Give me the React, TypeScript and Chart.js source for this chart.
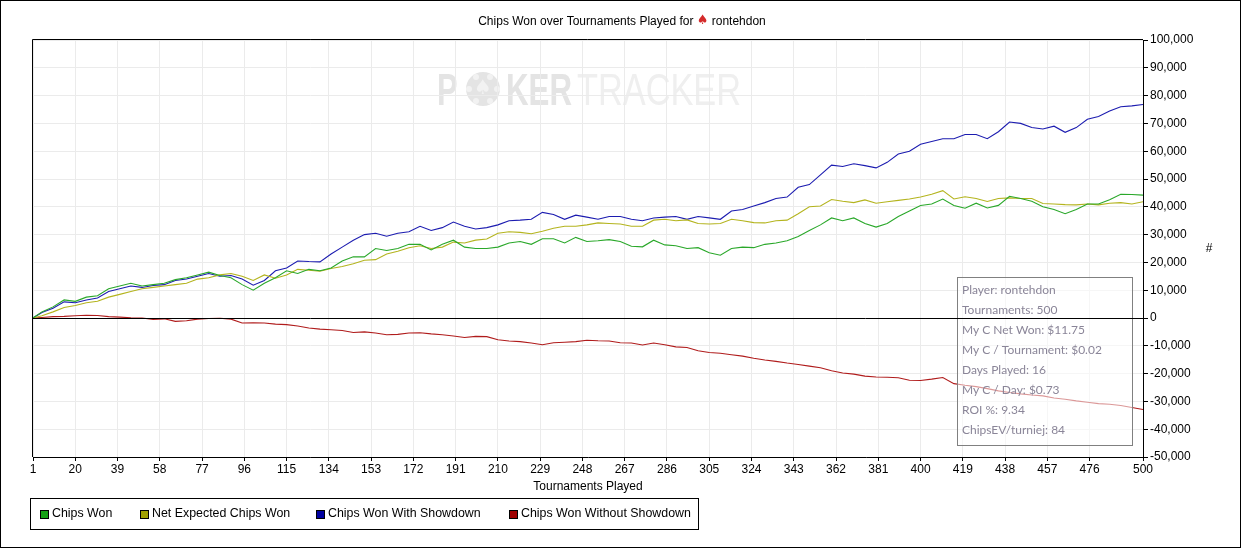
import { useEffect, useRef } from 'react'
import Chart from 'chart.js/auto'

// sampled tournament numbers (x values)
const tournaments = [
  1, 5, 10, 15, 20, 25, 30, 35, 40, 45, 50, 55, 60, 65, 70, 75, 80, 85, 90, 95,
  100, 105, 110, 115, 120, 125, 130, 135, 140, 145, 150, 155, 160, 165, 170, 175, 180, 185, 190, 195,
  200, 205, 210, 215, 220, 225, 230, 235, 240, 245, 250, 255, 260, 265, 270, 275, 280, 285, 290, 295,
  300, 305, 310, 315, 320, 325, 330, 335, 340, 345, 350, 355, 360, 365, 370, 375, 380, 385, 390, 395,
  400, 405, 410, 415, 420, 425, 430, 435, 440, 445, 450, 455, 460, 465, 470, 475, 480, 485, 490, 495,
  500,
]

// values in thousands of chips
const chipsWon = [
  0, 2.2, 4.0, 6.5, 6.0, 7.5, 8.0, 10.5, 11.5, 12.5, 11.5, 12.0, 12.5, 13.8, 14.5, 15.5, 16.5, 15.3, 14.5, 12.0,
  10.0, 12.5, 14.5, 17.0, 16.0, 17.5, 17.0, 18.0, 20.5, 22.0, 22.0, 25.0, 24.3, 25.0, 26.5, 26.5, 24.5, 26.5, 28.0, 25.5,
  25.0, 25.0, 25.5, 27.0, 27.5, 26.5, 28.5, 28.5, 27.0, 29.0, 27.5, 27.8, 28.2, 27.5, 25.8, 25.6, 28.0, 26.3, 26.0, 25.0,
  25.3, 23.5, 22.6, 25.0, 25.5, 25.3, 26.5, 27.0, 27.8, 29.3, 31.5, 33.5, 36.0, 35.0, 36.0, 34.0, 32.7, 34.0, 36.5, 38.5,
  40.5, 41.0, 42.8, 40.5, 39.5, 41.3, 39.6, 40.5, 43.8, 43.0, 42.0, 40.0, 39.0, 37.5, 39.0, 41.0, 41.0, 42.5, 44.5, 44.4,
  44.2,
]

const netExpectedChipsWon = [
  0, 0.8, 2.2, 3.8, 4.5, 5.5, 6.0, 7.5, 8.5, 9.5, 10.5, 11.0, 11.5, 12.0, 12.5, 14.0, 14.5, 15.5, 16.0, 15.0,
  13.5, 15.5, 14.3, 15.5, 17.5, 17.2, 16.8, 17.8, 18.5, 19.5, 20.8, 21.0, 23.0, 24.0, 25.3, 26.0, 25.0, 25.5, 27.3, 27.0,
  28.0, 28.4, 30.5, 31.0, 30.8, 30.3, 31.2, 32.3, 33.0, 33.0, 33.5, 34.2, 34.0, 33.8, 33.0, 33.0, 35.2, 35.5, 35.0, 35.3,
  34.0, 33.8, 34.0, 35.5, 35.0, 34.3, 34.2, 35.0, 35.2, 37.5, 40.0, 40.3, 42.6, 42.0, 41.5, 42.5, 41.3, 41.8, 42.3, 42.8,
  43.5, 44.5, 45.8, 42.8, 43.6, 43.0, 41.9, 43.0, 43.2, 43.0, 43.0, 41.2, 41.0, 40.8, 40.7, 41.0, 40.7, 41.3, 41.5, 41.0,
  41.8,
]

const chipsWonWithShowdown = [
  0, 2.0, 3.5, 5.8, 5.5, 6.5, 7.2, 9.5, 10.5, 11.5, 11.0, 11.7, 12.0, 13.5, 14.0, 15.0, 16.0, 15.0, 15.3, 14.0,
  11.8, 13.5, 17.0, 18.0, 20.5, 20.3, 20.2, 23.0, 25.5, 28.0, 30.0, 30.5, 29.4, 30.5, 31.0, 33.0, 31.5, 32.5, 34.5, 33.0,
  32.0, 32.5, 33.5, 35.0, 35.2, 35.5, 38.0, 37.2, 35.5, 37.0, 36.3, 35.5, 36.5, 36.5, 35.5, 35.0, 36.0, 36.3, 36.5, 35.5,
  36.5, 36.0, 35.5, 38.5, 39.0, 40.3, 41.5, 43.0, 43.5, 47.0, 48.0, 51.5, 55.0, 54.5, 55.5, 54.8, 54.0, 56.0, 59.0, 60.0,
  62.5, 63.5, 64.5, 64.5, 66.0, 66.0, 64.5, 67.0, 70.5, 70.0, 68.5, 68.0, 69.0, 66.8, 68.5, 71.5, 72.5, 74.5, 76.0, 76.3,
  76.8,
]

const chipsWonWithoutShowdown = [
  0, 0.2, 0.5, 0.6, 0.8, 1.0, 0.9, 0.5, 0.3, 0.1, 0, -0.5, -0.3, -1.2, -1.0, -0.4, -0.2, -0.1, -0.4, -1.8,
  -1.7, -1.8, -2.2, -2.4, -2.9, -3.6, -4.0, -4.2, -4.5, -5.2, -5.0, -5.4, -6.0, -5.9, -5.4, -5.3, -5.7, -6.0, -6.5, -7.0,
  -6.6, -6.7, -7.8, -8.3, -8.5, -9.0, -9.6, -8.9, -8.7, -8.5, -8.0, -8.2, -8.3, -8.9, -9.0, -9.7, -9.0, -9.6, -10.4, -10.6,
  -11.8, -12.4, -12.7, -13.2, -13.7, -14.5, -15.1, -15.6, -16.2, -16.7, -17.3, -17.9, -19.0, -19.8, -20.2, -20.9, -21.2, -21.3, -21.5, -22.4,
  -22.5, -22.0, -21.4, -23.6, -24.2, -24.7, -25.4, -26.2, -26.8, -27.3, -27.7, -28.0, -28.8, -29.2, -29.8, -30.3, -30.8, -31.0, -31.5, -32.2,
  -32.9,
]

const xTickLabels = [
  1, 20, 39, 58, 77, 96, 115, 134, 153, 172, 191, 210, 229, 248, 267, 286, 305, 324, 343, 362, 381, 400, 419, 438,
  457, 476, 500,
]

const seriesNames = ['Chips Won', 'Net Expected Chips Won', 'Chips Won With Showdown', 'Chips Won Without Showdown']
const lineColors = ['#2aa82a', '#b4b41e', '#1c1cb0', '#b01c1c']
const swatchColors = ['#14a014', '#a0a000', '#0000a0', '#a00000']
const legendX = [40, 140, 316, 509]

const infoLines = [
  'Player: rontehdon',
  'Tournaments: 500',
  'My C Net Won: $11.75',
  'My C / Tournament: $0.02',
  'Days Played: 16',
  'My C / Day: $0.73',
  'ROI %: 9.34',
  'ChipsEV/turniej: 84',
]

const FONT = '12px "Liberation Sans", Arial, sans-serif'

function toPoints(values: number[]) {
  return tournaments.map((t, i) => ({ x: t, y: values[i] * 1000 }))
}

function drawWatermark(ctx: CanvasRenderingContext2D) {
  ctx.save()
  ctx.textBaseline = 'alphabetic'
  ctx.fillStyle = '#e4e4e4'
  ctx.font = 'bold 44px "Liberation Sans", Arial, sans-serif'
  ctx.save()
  ctx.translate(437, 105)
  ctx.scale(0.7, 1)
  ctx.fillText('P', 0, 0)
  ctx.restore()
  ctx.save()
  ctx.translate(506, 105)
  ctx.scale(0.71, 1)
  ctx.fillText('KER', 0, 0)
  ctx.restore()
  // chip in place of the O
  ctx.beginPath()
  ctx.arc(483, 89, 17, 0, Math.PI * 2)
  ctx.fill()
  ctx.fillStyle = '#f2f2f2'
  for (let i = 0; i < 6; i++) {
    const a = (i * Math.PI) / 3
    ctx.beginPath()
    ctx.arc(483 + Math.cos(a) * 14, 89 + Math.sin(a) * 14, 3, 0, Math.PI * 2)
    ctx.fill()
  }
  ctx.font = '20px "DejaVu Sans", sans-serif'
  ctx.textAlign = 'center'
  ctx.textBaseline = 'middle'
  ctx.fillText('\u2660', 483, 89)
  ctx.textAlign = 'left'
  ctx.textBaseline = 'alphabetic'
  ctx.fillStyle = '#efefef'
  ctx.font = '44px "Liberation Sans", Arial, sans-serif'
  ctx.translate(577, 105)
  ctx.scale(0.78, 1)
  ctx.fillText('TRACKER', 0, 0)
  ctx.restore()
}

const pokerPlugin = {
  id: 'pokerDecor',
  beforeDraw(chart: Chart) {
    const ctx = chart.ctx
    ctx.save()
    ctx.fillStyle = '#ffffff'
    ctx.fillRect(0, 0, chart.width, chart.height)
    ctx.restore()
    drawWatermark(ctx)
  },
  afterDatasetsDraw(chart: Chart) {
    const ctx = chart.ctx
    const area = chart.chartArea
    ctx.save()

    // info box
    ctx.fillStyle = 'rgba(255,255,255,0.55)'
    ctx.fillRect(957, 277, 176, 169)
    ctx.strokeStyle = '#808080'
    ctx.lineWidth = 1
    ctx.strokeRect(957.5, 277.5, 175, 168)
    ctx.fillStyle = '#8a8598'
    ctx.font = '12px Lato, "Noto Sans", sans-serif'
    ctx.textBaseline = 'middle'
    infoLines.forEach((line, i) => ctx.fillText(line, 962, 290 + i * 20))

    // zero line
    const y0 = Math.round(chart.scales.y.getPixelForValue(0)) + 0.5
    ctx.strokeStyle = '#000000'
    ctx.beginPath()
    ctx.moveTo(area.left, y0)
    ctx.lineTo(area.right, y0)
    ctx.stroke()

    // top and left border of plot
    ctx.beginPath()
    ctx.moveTo(area.left - 0.5, area.bottom)
    ctx.lineTo(area.left - 0.5, area.top - 0.5)
    ctx.lineTo(area.right, area.top - 0.5)
    ctx.stroke()
    ctx.restore()
  },
  afterDraw(chart: Chart) {
    const ctx = chart.ctx
    const area = chart.chartArea
    ctx.save()
    ctx.fillStyle = '#000000'
    ctx.textBaseline = 'middle'

    // title with red spade
    const a = 'Chips Won over Tournaments Played for '
    const b = ' rontehdon'
    ctx.font = FONT
    const wa = ctx.measureText(a).width
    const wb = ctx.measureText(b).width
    ctx.font = '13px "DejaVu Sans", sans-serif'
    const ws = ctx.measureText('\u2660').width
    let x = 622 - (wa + ws + wb) / 2
    ctx.font = FONT
    ctx.fillText(a, x, 22)
    x += wa
    ctx.font = '13px "DejaVu Sans", sans-serif'
    ctx.fillStyle = '#d42a2a'
    ctx.fillText('\u2660', x, 21)
    x += ws
    ctx.fillStyle = '#000000'
    ctx.font = FONT
    ctx.fillText(b, x, 22)

    // axis titles
    ctx.textAlign = 'center'
    ctx.fillText('Tournaments Played', (area.left + area.right) / 2, 487)
    ctx.fillText('#', 1209, 249)
    ctx.textAlign = 'left'

    // legend
    const ly = 514
    ctx.lineWidth = 1
    seriesNames.forEach((name, i) => {
      const lx = legendX[i]
      ctx.fillStyle = swatchColors[i]
      ctx.fillRect(lx, ly - 4, 9, 9)
      ctx.strokeStyle = '#000000'
      ctx.strokeRect(lx + 0.5, ly - 3.5, 8, 8)
      ctx.fillStyle = '#000000'
      ctx.font = '12.4px "Liberation Sans", Arial, sans-serif'
      ctx.fillText(name, lx + 12, ly)
    })
    ctx.strokeStyle = '#000000'
    ctx.strokeRect(30.5, 498.5, 668, 31)

    // outer frame
    ctx.strokeRect(0.5, 0.5, 1240, 547)
    ctx.restore()
  },
}

function App() {
  const canvasRef = useRef<HTMLCanvasElement | null>(null)

  useEffect(() => {
    if (!canvasRef.current) return undefined

    const seriesValues = [chipsWon, netExpectedChipsWon, chipsWonWithShowdown, chipsWonWithoutShowdown]

    const chart = new Chart(canvasRef.current, {
      type: 'line',
      data: {
        datasets: seriesValues.map((values, i) => ({
          label: seriesNames[i],
          data: toPoints(values),
          borderColor: lineColors[i],
          backgroundColor: lineColors[i],
          borderWidth: 1.1,
          pointRadius: 0,
          tension: 0,
          fill: false,
        })),
      },
      options: {
        animation: false,
        responsive: true,
        maintainAspectRatio: false,
        devicePixelRatio: 1,
        layout: { padding: { left: 33, top: 40, right: 0, bottom: 0 } },
        plugins: {
          legend: { display: false },
          title: { display: false },
          tooltip: { enabled: false },
        },
        scales: {
          x: {
            type: 'linear',
            min: 1,
            max: 500,
            afterBuildTicks: (axis) => {
              axis.ticks = xTickLabels.map((v) => ({ value: v }))
            },
            afterFit: (scale) => {
              scale.height = 91
            },
            ticks: {
              autoSkip: false,
              maxRotation: 0,
              color: '#000000',
              font: { family: '"Liberation Sans", Arial, sans-serif', size: 12 },
              padding: 1,
            },
            grid: { color: '#ebebeb', tickColor: '#000000', tickLength: 4 },
            border: { color: '#000000' },
          },
          y: {
            position: 'right',
            min: -50000,
            max: 100000,
            afterFit: (scale) => {
              scale.width = 99
            },
            ticks: {
              stepSize: 10000,
              color: '#000000',
              font: { family: '"Liberation Sans", Arial, sans-serif', size: 12 },
              padding: 2,
              callback: (v) => Number(v).toLocaleString('en-US'),
            },
            grid: { color: '#ebebeb', tickColor: '#000000', tickLength: 5 },
            border: { color: '#000000' },
          },
        },
      },
      plugins: [pokerPlugin],
    })

    return () => {
      chart.destroy()
    }
  }, [])

  return (
    <div style={{ position: 'absolute', left: 0, top: 0, width: 1242, height: 548 }}>
      <canvas ref={canvasRef} />
    </div>
  )
}

export default App
